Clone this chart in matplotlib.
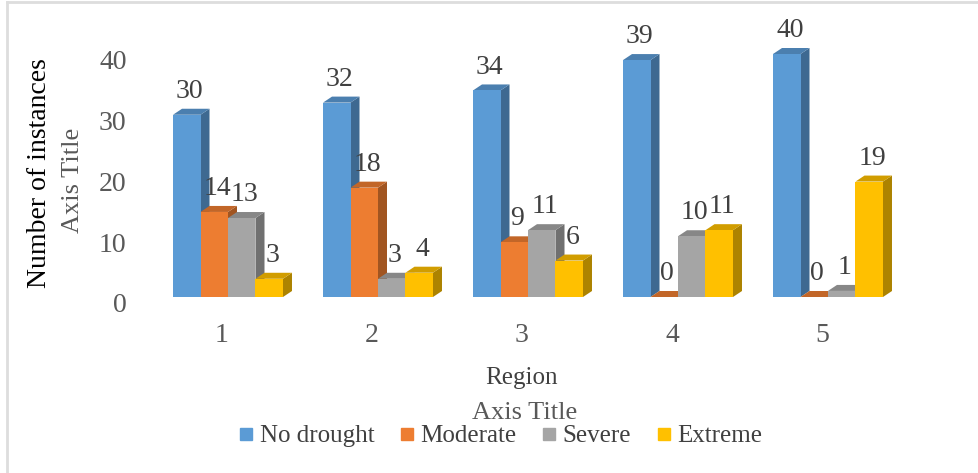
import numpy as np
import matplotlib.pyplot as plt
from matplotlib.patches import Polygon
from matplotlib.lines import Line2D
from matplotlib.transforms import ScaledTranslation
import matplotlib.colors as mcolors

plt.rcParams['font.family'] = ['Liberation Serif', 'DejaVu Serif']

regions = ['1', '2', '3', '4', '5']
series = ['No drought', 'Moderate', 'Severe', 'Extreme']
no_drought = [30, 32, 34, 39, 40]
moderate = [14, 18, 9, 0, 0]
severe = [13, 3, 11, 10, 1]
extreme = [3, 4, 6, 11, 19]
values = [no_drought, moderate, severe, extreme]
colors = ['#5B9BD5', '#ED7D31', '#A5A5A5', '#FFC000']

W, H = 979, 473
fig = plt.figure(figsize=(W / 100, H / 100), dpi=100)
# axes placed in pixels: x 153..903, y(0)=297, y(40)=54
ax = fig.add_axes([153 / W, (H - 297) / H, 750 / W, 243 / H])
ax.set_xlim(-0.5, 4.5)
ax.set_ylim(0, 40)

bw = 0.1833          # one bar = 27.5 px out of 150 px per category
dx = 9 / 150         # depth offset in x (data units)
dy = 6 / 6.075       # depth offset in y (data units)

def shade(c, f):
    r, g, b = mcolors.to_rgb(c)
    return (r * f, g * f, b * f)

x = np.arange(len(regions))
for j, (vals, col) in enumerate(zip(values, colors)):
    for i, v in enumerate(vals):
        x0 = x[i] - 2 * bw + j * bw
        x1 = x0 + bw
        z = 2 + i * 0.1 + j * 0.01
        # side face
        ax.add_patch(Polygon([(x1, 0), (x1 + dx, dy), (x1 + dx, v + dy), (x1, v)],
                             closed=True, fc=shade(col, 0.68), ec='none',
                             clip_on=False, zorder=z))
        # top face
        ax.add_patch(Polygon([(x0, v), (x0 + dx, v + dy), (x1 + dx, v + dy), (x1, v)],
                             closed=True, fc=shade(col, 0.82), ec='none',
                             clip_on=False, zorder=z))
        # front face
        if v > 0:
            ax.bar(x0, v, width=bw, align='edge', color=col, linewidth=0, zorder=z + 0.005)
        ax.text(x0 + bw / 2 + 0.02, v + 1.8, str(v), ha='center', va='bottom',
                fontsize=20, color='#404040', zorder=10, clip_on=False)

for s in ax.spines.values():
    s.set_visible(False)
ax.set_xticks(x)
ax.set_xticklabels(regions, fontsize=20, color='#595959')
ax.tick_params(axis='x', length=0, pad=19)
for lab in ax.get_xticklabels():
    lab.set_transform(lab.get_transform() + ScaledTranslation(-6 / 100, 0, fig.dpi_scale_trans))
ax.set_yticks([0, 10, 20, 30, 40])
ax.tick_params(axis='y', length=0, labelsize=20, labelcolor='#595959', pad=19)
for lab in ax.get_yticklabels():
    lab.set_transform(lab.get_transform() + ScaledTranslation(0, -6 / 100, fig.dpi_scale_trans))

# axis titles
fig.text(40 / W, 1 - 173 / H, 'Number of instances', rotation=90, ha='center', va='center',
         fontsize=20, color='black')
fig.text(73 / W, 1 - 180 / H, 'Axis Title', rotation=90, ha='center', va='center',
         fontsize=19, color='#595959')
fig.text(521 / W, 1 - 378 / H, 'Region', ha='center', va='center', fontsize=18, color='#404040')
fig.text(525 / W, 1 - 413 / H, 'Axis Title', ha='center', va='center', fontsize=19, color='#595959')

handles = [Line2D([], [], marker='s', linestyle='none', markersize=8,
                  markerfacecolor=c, markeredgecolor=c) for c in colors]
fig.legend(handles, series, loc='center', bbox_to_anchor=(501 / W, 1 - 436 / H),
           ncol=4, frameon=False, fontsize=18, handletextpad=0.3, columnspacing=1.05,
           handlelength=0.5, labelcolor='#404040')

# light border on top and left
fig.add_artist(Line2D([7.5 / W, 7.5 / W], [0, 1 - 2.5 / H], color='#DDDDDD', lw=2))
fig.add_artist(Line2D([7.5 / W, 1], [1 - 2.5 / H, 1 - 2.5 / H], color='#DDDDDD', lw=2))

fig.savefig('out.png', dpi=100)
